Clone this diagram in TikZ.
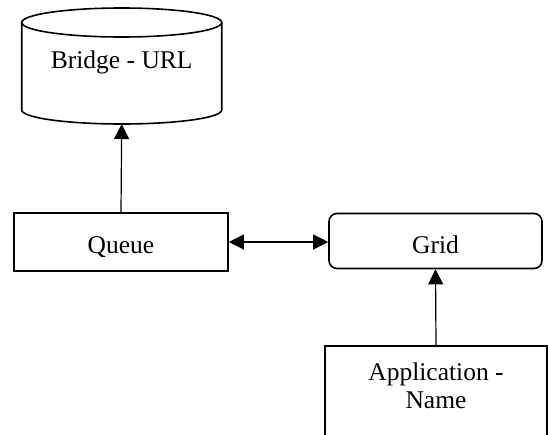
\documentclass[tikz,border=0pt]{standalone}
\usepackage{fontspec}
\setmainfont{Liberation Serif}
\usetikzlibrary{arrows.meta}
\tikzset{
  boxline/.style={draw=black, line width=1.6pt},
  lbl/.style={font=\fontsize{25.5}{28}\selectfont, inner sep=0pt},
  conn/.style={line width=1.2pt, -{Triangle[length=15pt,width=15pt]}},
  dconn/.style={line width=1.2pt, {Triangle[length=15pt,width=15pt]}-{Triangle[length=15pt,width=15pt]}}
}
\begin{document}
\begin{tikzpicture}[x=1pt, y=-1pt]
\useasboundingbox (0,0) rectangle (548,434);
\fill[white] (0,0) rectangle (548,434);
\clip (0,0) rectangle (548,434);
% cylinder
\draw[boxline] (121.7,22.5) ellipse [x radius=100, y radius=14.5];
\draw[boxline] (21.7,22.5) -- (21.7,110) arc[start angle=180, end angle=360, x radius=100, y radius=-14] -- (221.7,22.5);
\coordinate (bridgebot) at (121.7,124);
\node[lbl, anchor=base] (bridge) at (121.7,68) {Bridge - URL};
% queue
\node[boxline, lbl, minimum width=214pt, minimum height=58pt, text height=22pt, text depth=0pt] (queue) at (121,242) {Queue};
% grid
\node[boxline, lbl, rounded corners=8pt, minimum width=213pt, minimum height=55pt, text height=25pt, text depth=0pt] (grid) at (435.5,241) {Grid};
% application
\node[boxline, anchor=north, minimum width=222pt, minimum height=130pt] (app) at (436,345) {};
\node[lbl, anchor=base, align=center] (appname) at (436,408) {Application -\\Name};
% connectors
\draw[conn] (queue.north) -- (bridgebot);
\draw[dconn] (queue.east) -- (queue.east -| grid.west);
\draw[conn] (app.north) -- (grid.south);
\end{tikzpicture}
\end{document}
